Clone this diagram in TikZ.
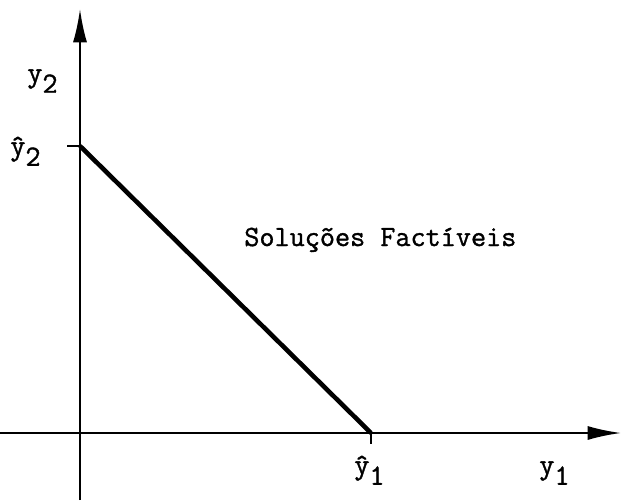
\documentclass[tikz,border=0pt]{standalone}
\usepackage{fontspec}
\newfontfamily\twfont[FakeBold=1.2]{Latin Modern Mono}
\usetikzlibrary{arrows.meta}
\newcommand{\lbl}[2]{#1\raisebox{-0.85ex}{#2}}
\begin{document}
\begin{tikzpicture}[x=0.02cm,y=-0.02cm,
  axis/.style={line width=1.2pt,-{Latex[length=19pt,width=8pt]}},
  txt/.style={inner sep=0pt,font=\twfont\fontsize{16.7pt}{18pt}\selectfont},
  bound/.style={line width=2.6pt}]
\useasboundingbox (0,0) rectangle (625,500);
\coordinate (vbot) at (80,500);
\coordinate (vtop) at (80,9);
\coordinate (hleft) at (0,433);
\coordinate (hright) at (621,433);
\coordinate (p2) at (80,146);
\coordinate (p1) at (371,433);
\coordinate (t2) at (67,146);
\coordinate (t1) at (371,444);
\draw[axis] (vbot) -- (vtop);
\draw[axis] (hleft) -- (hright);
\draw[bound] (p2) -- (p1);
\draw[line width=0.9pt] (t2) -- (p2);
\draw[line width=1.6pt] (p1) -- (t1);
\node[txt,anchor=base west] (ly2) at (27,82) {\lbl{y}{2}};
\node[txt,anchor=base west] (lh2) at (10,155) {\lbl{ŷ}{2}};
\node[txt,anchor=base west] (sol) at (244,246) {Soluções Factíveis};
\node[txt,anchor=base west] (lh1) at (354,474) {\lbl{ŷ}{1}};
\node[txt,anchor=base west] (ly1) at (539,474) {\lbl{y}{1}};
\end{tikzpicture}
\end{document}
